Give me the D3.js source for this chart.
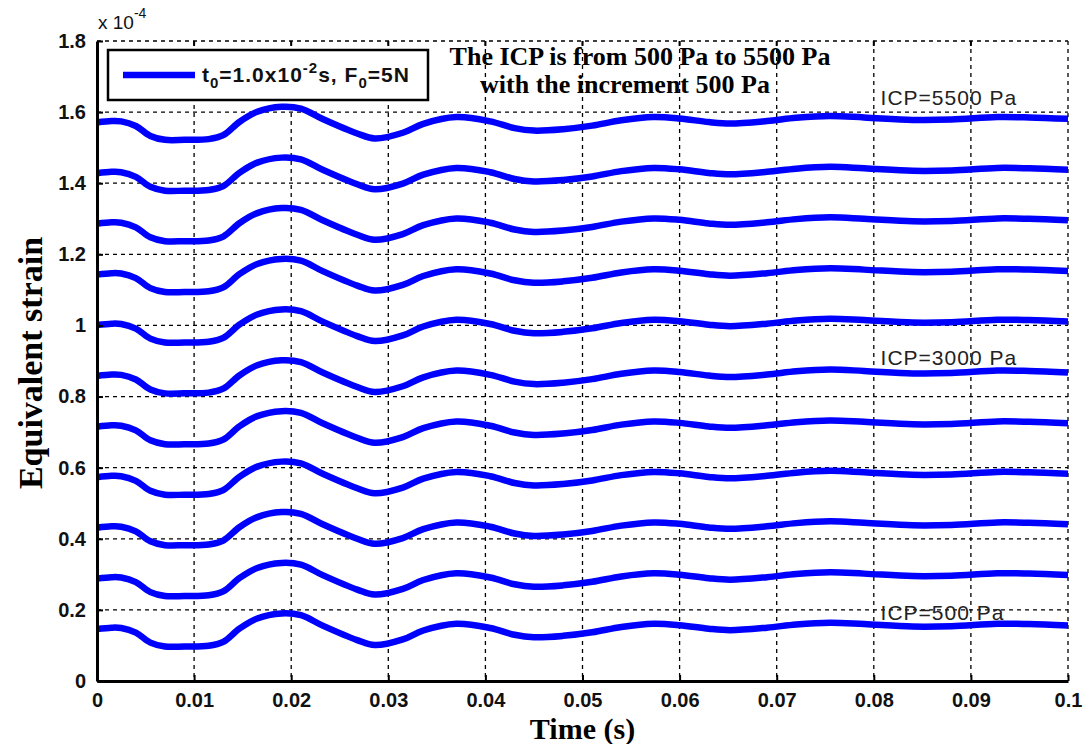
<!DOCTYPE html>
<html>
<head>
<meta charset="utf-8">
<script src="https://cdn.jsdelivr.net/npm/d3@7"></script>
<style>
  body { margin: 0; background: #fff; }
  svg { display: block; }
</style>
</head>
<body>
<div id="chart"></div>
<script>
// tick values
const timeTicks = [0, 0.01, 0.02, 0.03, 0.04, 0.05, 0.06, 0.07, 0.08, 0.09, 0.1];
const strainTicks = [0, 0.2, 0.4, 0.6, 0.8, 1, 1.2, 1.4, 1.6, 1.8];

const shapeTime = [0, 0.0015, 0.0025, 0.004, 0.0055, 0.007, 0.009, 0.0115, 0.013, 0.0147, 0.0165,
  0.019, 0.021, 0.0233, 0.0268, 0.0286, 0.0315, 0.0336, 0.037, 0.0405, 0.043, 0.045, 0.048,
  0.051, 0.054, 0.0573, 0.060, 0.063, 0.0652, 0.069, 0.072, 0.0755, 0.079, 0.084, 0.088,
  0.0927, 0.096, 0.1];
const shapeStrain = [0.146, 0.150, 0.149, 0.136, 0.108, 0.097, 0.097, 0.099, 0.110, 0.148, 0.176,
  0.190, 0.185, 0.155, 0.115, 0.101, 0.117, 0.142, 0.161, 0.149, 0.130, 0.123, 0.127,
  0.137, 0.152, 0.161, 0.157, 0.147, 0.143, 0.150, 0.159, 0.164, 0.160, 0.153, 0.154,
  0.161, 0.160, 0.156];

// ICP levels and the strain where each curve starts at t = 0
const icpPa = [500, 1000, 1500, 2000, 2500, 3000, 3500, 4000, 4500, 5000, 5500];
const curveStart = [0.146, 0.288, 0.431, 0.573, 0.715, 0.858, 1.001, 1.143, 1.286, 1.428, 1.571];

const W = 1090, H = 744;
const margin = {top: 41, right: 22, bottom: 63, left: 97};
const width = W - margin.left - margin.right;
const height = H - margin.top - margin.bottom;

const svg = d3.select("#chart").append("svg")
  .attr("width", W)
  .attr("height", H);

const x = d3.scaleLinear().domain([0, 0.1]).range([0, width]);
const y = d3.scaleLinear().domain([0, 1.8]).range([height, 0]);

const g = svg.append("g")
  .attr("transform", "translate(" + margin.left + "," + margin.top + ")");

// dashed grid (also forms top/right frame)
g.append("g").selectAll("line")
  .data(timeTicks.slice(1))
  .join("line")
  .attr("x1", d => x(d)).attr("x2", d => x(d))
  .attr("y1", 0).attr("y2", height)
  .attr("stroke", "#000").attr("stroke-width", 1.3)
  .attr("stroke-dasharray", "4,4");
g.append("g").selectAll("line")
  .data(strainTicks.slice(1))
  .join("line")
  .attr("x1", 0).attr("x2", width)
  .attr("y1", d => y(d)).attr("y2", d => y(d))
  .attr("stroke", "#000").attr("stroke-width", 1.3)
  .attr("stroke-dasharray", "4,4");

// curves
const series = icpPa.map((p, i) => ({
  icp: p,
  values: shapeTime.map((t, j) => [t, shapeStrain[j] - shapeStrain[0] + curveStart[i]])
}));

const line = d3.line()
  .x(d => x(d[0]))
  .y(d => y(d[1]))
  .curve(d3.curveCatmullRom.alpha(0.5));

g.append("g").selectAll("path")
  .data(series)
  .join("path")
  .attr("d", d => line(d.values))
  .attr("fill", "none")
  .attr("stroke", "#0000ff")
  .attr("stroke-width", 6.5)
  .attr("stroke-linejoin", "round");

// axes
const xAxis = d3.axisBottom(x).tickValues(timeTicks)
  .tickFormat(d => d3.format("~g")(d)).tickSizeInner(-6).tickSizeOuter(0).tickPadding(12);
const yAxis = d3.axisLeft(y).tickValues(strainTicks)
  .tickFormat(d => d3.format("~g")(d)).tickSizeInner(-6).tickSizeOuter(0).tickPadding(11);

const gx = g.append("g")
  .attr("transform", "translate(0," + height + ")")
  .call(xAxis);
const gy = g.append("g").call(yAxis);

[gx, gy].forEach(a => {
  a.select(".domain").attr("stroke", "#000").attr("stroke-width", 3);
  a.selectAll(".tick line").attr("stroke", "#000").attr("stroke-width", 2);
  a.selectAll(".tick text")
    .attr("fill", "#111")
    .style("font-family", "'Liberation Sans', Arial, sans-serif")
    .style("font-weight", "bold")
    .style("font-size", "20px");
});

// small ticks at the top edge
g.append("g").selectAll("line")
  .data(timeTicks.slice(1, -1))
  .join("line")
  .attr("x1", d => x(d)).attr("x2", d => x(d))
  .attr("y1", 0).attr("y2", 5)
  .attr("stroke", "#000").attr("stroke-width", 2);

// exponent
const expo = svg.append("text")
  .attr("x", margin.left + 1)
  .attr("y", 29)
  .style("font-family", "'Liberation Sans', Arial, sans-serif")
  .style("font-size", "19px")
  .attr("fill", "#111");
expo.append("tspan").text("x 10");
expo.append("tspan").attr("dy", -11).style("font-size", "14px").text("-4");

// axis labels
svg.append("text")
  .attr("x", margin.left + width / 2)
  .attr("y", 739)
  .attr("text-anchor", "middle")
  .style("font-family", "'Liberation Serif', 'Times New Roman', serif")
  .style("font-weight", "bold")
  .style("font-size", "30px")
  .text("Time (s)");

svg.append("text")
  .attr("transform", "translate(42," + (margin.top + height / 2 + 2) + ") rotate(-90)")
  .attr("text-anchor", "middle")
  .style("font-family", "'Liberation Serif', 'Times New Roman', serif")
  .style("font-weight", "bold")
  .style("font-size", "34px")
  .text("Equivalent strain");

// legend
const lg = svg.append("g").attr("transform", "translate(108,50)");
lg.append("rect")
  .attr("width", 320).attr("height", 50)
  .attr("fill", "#fff").attr("stroke", "#000").attr("stroke-width", 2.5);
lg.append("line")
  .attr("x1", 15).attr("x2", 87).attr("y1", 25).attr("y2", 25)
  .attr("stroke", "#0000ff").attr("stroke-width", 6.5);
const lt = lg.append("text")
  .attr("x", 94).attr("y", 32)
  .style("font-family", "'Liberation Sans', Arial, sans-serif")
  .style("font-weight", "bold")
  .style("font-size", "21px")
  .style("letter-spacing", "1px")
  .attr("fill", "#111");
lt.append("tspan").text("t");
lt.append("tspan").attr("dy", 6).style("font-size", "15px").text("0");
lt.append("tspan").attr("dy", -6).text("=1.0x10");
lt.append("tspan").attr("dy", -9).style("font-size", "15px").text("-2");
lt.append("tspan").attr("dy", 9).text("s, F");
lt.append("tspan").attr("dy", 6).style("font-size", "15px").text("0");
lt.append("tspan").attr("dy", -6).text("=5N");

// annotation
const note = svg.append("text")
  .attr("text-anchor", "middle")
  .style("font-family", "'Liberation Serif', 'Times New Roman', serif")
  .style("font-weight", "bold")
  .style("font-size", "26px")
  .attr("fill", "#000");
note.append("tspan").attr("x", 640).attr("y", 65).text("The ICP is from 500 Pa to 5500 Pa");
note.append("tspan").attr("x", 625).attr("y", 93).text("with the increment 500 Pa");

// ICP labels
const icpNotes = [[5500, 1.62], [3000, 0.889], [500, 0.172]];
g.append("g").selectAll("text")
  .data(icpNotes)
  .join("text")
  .attr("x", x(0.0807))
  .attr("y", d => y(d[1]))
  .style("font-family", "'Liberation Sans', Arial, sans-serif")
  .style("font-size", "21px")
  .style("letter-spacing", "1px")
  .attr("fill", "#222")
  .text(d => "ICP=" + d[0] + " Pa");
</script>
</body>
</html>
